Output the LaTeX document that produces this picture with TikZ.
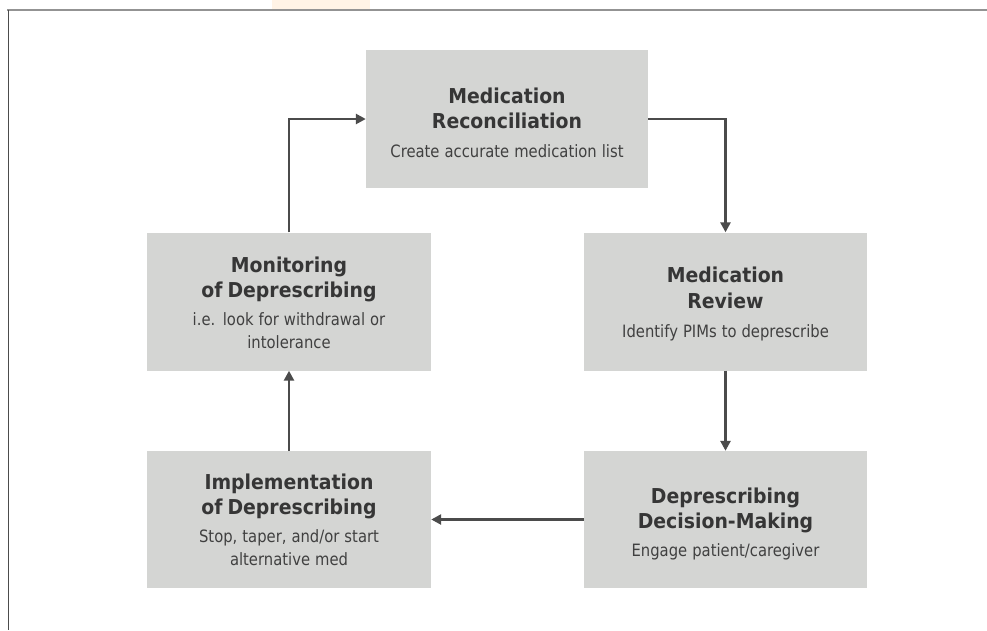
\documentclass[tikz,border=0pt]{standalone}
\usepackage{fontspec}
\setmainfont{DejaVu Sans}
\newfontfamily\titlefam[FakeStretch=0.92]{DejaVu Sans}
\newfontfamily\subfam[FakeStretch=0.87]{DejaVu Sans}
\usetikzlibrary{arrows.meta}
\definecolor{boxgray}{HTML}{D4D5D3}
\definecolor{txtdark}{HTML}{363636}
\definecolor{txtsub}{HTML}{404040}
\definecolor{arrgray}{HTML}{4B4B4B}
\definecolor{wmark}{HTML}{FFF3E6}
\newcommand\titlef{\titlefam\fontsize{20.5}{23}\selectfont\bfseries\color{txtdark}}
\newcommand\subf{\subfam\fontsize{17}{23}\selectfont\mdseries\color{txtsub}}
\tikzset{
  stepbox/.style={rectangle, fill=boxgray, minimum width=284pt, minimum height=138pt,
    inner sep=0pt},
  boxtext/.style={inner sep=0pt, align=center, text width=280pt,
    font=\fontsize{15}{23}\selectfont},
  arr/.style={draw=arrgray, line width=2.8pt, -{Triangle[length=10pt,width=10pt]}},
}
\begin{document}
\begin{tikzpicture}[x=1pt,y=-1pt]
\useasboundingbox (0,0) rectangle (987,630);
\fill[white] (0,0) rectangle (987,630);
% faint watermark at top
\fill[wmark] (272,0) rectangle (370,10);
% frame lines
\draw[line width=2pt, draw=gray!85] (7,10) -- (987,10);
\draw[line width=1pt, draw=black!70] (8,10) -- (8,630);
% boxes
\node[stepbox, minimum width=282pt] (rec) at (507,119) {};
\node[stepbox] (mon) at (289,301.5) {};
\node[stepbox, minimum width=283pt] (rev) at (725.5,301.5) {};
\node[stepbox, minimum width=283pt, minimum height=137pt] (dec) at (725.5,519.5) {};
\node[stepbox, minimum height=137pt] (imp) at (289,519.5) {};
% texts
\node[boxtext] (recT) at ([yshift=-3.5pt]rec.center)
  {\titlef Medication\\[2pt]Reconciliation\\[6pt]\subf Create accurate medication list};
\node[boxtext] (monT) at ([yshift=-1pt]mon.center)
  {\titlef Monitoring\\[2pt]of Deprescribing\\[5pt]\subf i.e. look for withdrawal or\\intolerance};
\node[boxtext] (revT) at ([yshift=-2.5pt]rev.center)
  {\titlef Medication\\[3pt]Review\\[6pt]\subf Identify PIMs to deprescribe};
\node[boxtext] (decT) at ([yshift=-4.5pt]dec.center)
  {\titlef Deprescribing\\[2pt]Decision-Making\\[5pt]\subf Engage patient/caregiver};
\node[boxtext] (impT) at (imp.center)
  {\titlef Implementation\\[2pt]of Deprescribing\\[5pt]\subf Stop, taper, and/or start\\alternative med};
% connectors
\draw[arr] (mon.north) |- (rec.west);
\draw[arr] (rec.east) -| (rev.north);
\draw[arr] (rev.south) -- (dec.north);
\draw[arr] (dec.west) -- (imp.east);
\draw[arr] (imp.north) -- (mon.south);
\end{tikzpicture}
\end{document}
